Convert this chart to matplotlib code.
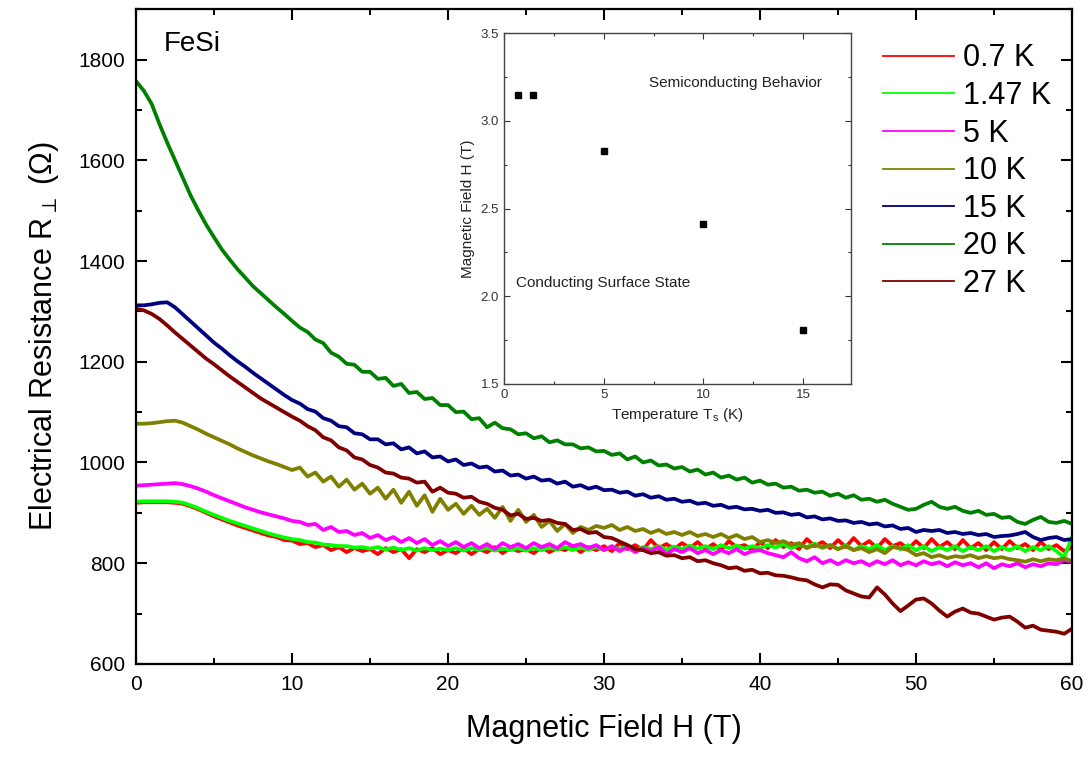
import matplotlib
matplotlib.use("Agg")
import matplotlib.pyplot as plt
from matplotlib.lines import Line2D
from matplotlib.ticker import MultipleLocator

plt.rcParams["font.family"] = ["Liberation Sans", "DejaVu Sans"]
plt.rcParams["mathtext.fontset"] = "dejavusans"

# ── field sweep (T) and resistance curves (Ohm) ──────────────────────────────
FIELD = [
    0.0, 0.5, 1.0, 1.5, 2.0, 2.5, 3.0, 3.5, 4.0, 4.5,
    5.0, 5.5, 6.0, 6.5, 7.0, 7.5, 8.0, 8.5, 9.0, 9.5,
    10.0, 10.5, 11.0, 11.5, 12.0, 12.5, 13.0, 13.5, 14.0, 14.5,
    15.0, 15.5, 16.0, 16.5, 17.0, 17.5, 18.0, 18.5, 19.0, 19.5,
    20.0, 20.5, 21.0, 21.5, 22.0, 22.5, 23.0, 23.5, 24.0, 24.5,
    25.0, 25.5, 26.0, 26.5, 27.0, 27.5, 28.0, 28.5, 29.0, 29.5,
    30.0, 30.5, 31.0, 31.5, 32.0, 32.5, 33.0, 33.5, 34.0, 34.5,
    35.0, 35.5, 36.0, 36.5, 37.0, 37.5, 38.0, 38.5, 39.0, 39.5,
    40.0, 40.5, 41.0, 41.5, 42.0, 42.5, 43.0, 43.5, 44.0, 44.5,
    45.0, 45.5, 46.0, 46.5, 47.0, 47.5, 48.0, 48.5, 49.0, 49.5,
    50.0, 50.5, 51.0, 51.5, 52.0, 52.5, 53.0, 53.5, 54.0, 54.5,
    55.0, 55.5, 56.0, 56.5, 57.0, 57.5, 58.0, 58.5, 59.0, 59.5,
    60.0,
]

R_07K = [
    920, 921, 921, 921, 921, 920, 918, 913, 907, 900,
    893, 887, 881, 875, 870, 865, 860, 855, 852, 846,
    845, 838, 840, 832, 836, 826, 832, 822, 830, 824,
    828, 818, 830, 822, 828, 810, 828, 822, 830, 818,
    826, 820, 830, 818, 828, 822, 832, 820, 830, 824,
    828, 820, 832, 822, 830, 826, 834, 822, 832, 826,
    834, 824, 840, 828, 836, 826, 846, 830, 838, 828,
    840, 830, 842, 828, 838, 826, 844, 832, 836, 826,
    842, 830, 846, 832, 840, 828, 848, 834, 842, 830,
    846, 832, 850, 834, 844, 830, 848, 834, 840, 828,
    844, 830, 848, 832, 842, 828, 846, 830, 840, 826,
    842, 828, 844, 830, 838, 826, 842, 828, 836, 824,
    832,
]

R_147K = [
    922, 923, 923, 923, 923, 922, 920, 915, 909, 902,
    896, 890, 884, 879, 874, 869, 864, 859, 855, 851,
    848, 846, 842, 841, 837, 836, 834, 834, 831, 832,
    829, 832, 827, 831, 826, 830, 825, 830, 826, 829,
    826, 830, 825, 830, 826, 831, 825, 829, 826, 830,
    825, 830, 826, 831, 827, 832, 826, 831, 827, 832,
    826, 833, 828, 834, 826, 832, 828, 834, 827, 833,
    828, 835, 829, 834, 828, 836, 830, 835, 829, 834,
    830, 836, 831, 838, 830, 837, 832, 839, 830, 836,
    828, 836, 826, 834, 828, 836, 826, 834, 828, 836,
    826, 834, 824, 832, 826, 834, 824, 832, 826, 834,
    824, 832, 826, 834, 824, 832, 826, 834, 824, 812,
    852,
]

R_5K = [
    954, 955, 956, 957, 958, 959, 957, 953, 948, 942,
    935, 929, 923, 917, 911, 906, 901, 897, 893, 889,
    884, 882, 876, 878, 866, 872, 862, 864, 856, 860,
    850, 856, 846, 852, 842, 850, 840, 848, 836, 844,
    834, 842, 832, 840, 830, 838, 828, 840, 832, 838,
    830, 840, 832, 838, 830, 842, 834, 838, 830, 836,
    826, 834, 824, 832, 822, 830, 824, 832, 818, 828,
    822, 830, 820, 826, 818, 826, 820, 828, 818, 824,
    826, 820, 816, 812, 822, 810, 804, 812, 800, 806,
    798, 806, 800, 804, 796, 804, 798, 806, 796, 802,
    796, 804, 798, 802, 794, 802, 796, 800, 792, 800,
    790, 798, 794, 800, 792, 798, 794, 800, 798, 806,
    803,
]

R_10K = [
    1077, 1077, 1078, 1080, 1082, 1083, 1079, 1072, 1065, 1057,
    1050, 1043, 1036, 1028, 1021, 1014, 1008, 1002, 997, 991,
    985, 990, 972, 980, 962, 972, 952, 966, 946, 958,
    938, 950, 928, 946, 920, 942, 914, 935, 902, 928,
    906, 918, 898, 914, 896, 908, 890, 912, 884, 906,
    882, 896, 872, 884, 864, 878, 860, 872, 866, 874,
    870, 876, 866, 872, 864, 868, 860, 866, 858, 862,
    856, 862, 854, 858, 852, 858, 850, 856, 848, 852,
    842, 846, 840, 844, 836, 840, 830, 836, 832, 836,
    828, 834, 826, 830, 822, 828, 820, 832, 830, 826,
    816, 820, 812, 816, 810, 814, 812, 816, 810, 814,
    810, 812, 808, 806, 803, 808, 804, 808, 806, 810,
    804,
]

R_15K = [
    1312, 1312, 1314, 1317, 1318, 1308, 1294, 1280, 1266, 1252,
    1238, 1226, 1213, 1201, 1190, 1178, 1167, 1156, 1145, 1134,
    1124, 1117, 1106, 1101, 1088, 1083, 1072, 1070, 1058, 1056,
    1046, 1046, 1036, 1038, 1026, 1030, 1018, 1022, 1010, 1012,
    1002, 1006, 995, 998, 990, 992, 982, 984, 974, 976,
    968, 972, 964, 966, 958, 962, 952, 955, 948, 952,
    945, 946, 940, 942, 934, 937, 930, 933, 926, 928,
    922, 924, 918, 920, 914, 916, 910, 912, 907, 908,
    904, 906, 900, 901, 896, 898, 891, 893, 887, 889,
    884, 885, 880, 882, 877, 879, 873, 875, 868, 870,
    862, 866, 864, 866, 860, 862, 858, 860, 856, 858,
    852, 854, 855, 858, 862, 852, 846, 850, 852, 846,
    848,
]

R_20K = [
    1757, 1738, 1712, 1672, 1635, 1600, 1565, 1530, 1500, 1472,
    1447, 1423, 1403, 1384, 1367, 1350, 1336, 1322, 1308, 1295,
    1281, 1268, 1259, 1244, 1237, 1218, 1210, 1196, 1194, 1180,
    1180, 1166, 1168, 1152, 1156, 1138, 1140, 1126, 1128, 1114,
    1114, 1100, 1101, 1086, 1088, 1070, 1079, 1068, 1066, 1056,
    1058, 1048, 1052, 1040, 1044, 1036, 1036, 1028, 1030, 1022,
    1023, 1015, 1018, 1006, 1012, 1000, 1004, 994, 996, 988,
    991, 982, 986, 976, 980, 970, 974, 966, 970, 960,
    964, 956, 958, 950, 952, 944, 946, 940, 942, 934,
    938, 930, 935, 926, 928, 922, 926, 918, 912, 906,
    908, 916, 922, 912, 908, 912, 904, 900, 904, 896,
    898, 890, 892, 882, 878, 886, 892, 882, 880, 884,
    878,
]

R_27K = [
    1305, 1302, 1295, 1285, 1272, 1258, 1245, 1232, 1219, 1206,
    1195, 1183, 1171, 1160, 1149, 1138, 1127, 1118, 1109, 1100,
    1091, 1083, 1072, 1064, 1050, 1044, 1030, 1024, 1010, 1006,
    995, 990, 980, 978, 970, 968, 960, 962, 942, 950,
    940, 938, 930, 932, 922, 918, 910, 906, 895, 898,
    888, 890, 884, 886, 880, 878, 866, 868, 860, 862,
    852, 850, 843, 836, 828, 826, 820, 822, 815, 816,
    810, 812, 804, 806, 800, 796, 790, 792, 785, 787,
    780, 781, 776, 775, 772, 768, 766, 758, 752, 758,
    757, 746, 740, 734, 732, 752, 738, 720, 705, 716,
    728, 730, 720, 706, 694, 704, 710, 702, 700, 694,
    688, 692, 694, 684, 672, 676, 668, 666, 664, 660,
    670,
]

LABELS = ["0.7 K", "1.47 K", "5 K", "10 K", "15 K", "20 K", "27 K"]
COLORS = ["#ff0000", "#00ff00", "#ff00ff", "#808000", "#000080", "#008000", "#800000"]
CURVES = [R_07K, R_147K, R_5K, R_10K, R_15K, R_20K, R_27K]

# ── inset: crossover field vs temperature ─────────────────────────────────────
TS = [0.7, 1.47, 5, 10, 15]
H_CROSS = [3.145, 3.145, 2.825, 2.41, 1.81]

fig = plt.figure(figsize=(10.9, 7.57), dpi=100)
ax = fig.add_axes([0.1248, 0.1229, 0.8587, 0.865])

for r, c in zip(CURVES, COLORS):
    ax.plot(FIELD, r, color=c, lw=2.7, solid_joinstyle="round")

ax.set_xlim(0, 60)
ax.set_ylim(600, 1900)
ax.xaxis.set_major_locator(MultipleLocator(10))
ax.xaxis.set_minor_locator(MultipleLocator(5))
ax.yaxis.set_minor_locator(MultipleLocator(100))
ax.set_yticks([600, 800, 1000, 1200, 1400, 1600, 1800])
ax.tick_params(which="both", direction="in", top=True, right=True, width=1.5)
ax.tick_params(which="major", length=8, labelsize=15, pad=8)
ax.tick_params(which="minor", length=4)
for s in ax.spines.values():
    s.set_linewidth(1.6)

ax.set_xlabel("Magnetic Field H (T)", fontsize=22, labelpad=14)
ax.set_ylabel("Electrical Resistance R$_{\\perp}$ (Ω)", fontsize=22, labelpad=12)
ax.text(1.75, 1830, "FeSi", fontsize=20, va="center", ha="left")

handles = [Line2D([], [], color=c, lw=1.3) for c in COLORS]
ax.legend(handles, LABELS, loc="upper left", bbox_to_anchor=(868 / 1090, 1 - 28 / 757),
          bbox_transform=fig.transFigure, frameon=False, fontsize=22,
          handlelength=2.3, handletextpad=0.3, labelspacing=0.25, borderpad=0)

# inset
ins = fig.add_axes([504 / 1090, 1 - 384 / 757, 347 / 1090, 351 / 757])
ins.plot(TS, H_CROSS, ls="none", marker="s", ms=5, color="black")
ins.set_xlim(0, 17.4)
ins.set_ylim(1.5, 3.5)
ins.xaxis.set_major_locator(MultipleLocator(5))
ins.xaxis.set_minor_locator(MultipleLocator(2.5))
ins.yaxis.set_major_locator(MultipleLocator(0.5))
ins.yaxis.set_minor_locator(MultipleLocator(0.25))
ins.tick_params(which="both", direction="in", top=True, right=True, width=0.8,
                labelsize=9.5, colors="#333333", labelcolor="#333333")
ins.tick_params(which="major", length=4)
ins.tick_params(which="minor", length=2)
for s in ins.spines.values():
    s.set_linewidth(1.0)
    s.set_color("#444444")
ins.set_xlabel("Temperature T$_\\mathregular{s}$ (K)", fontsize=11, color="#222222")
ins.set_ylabel("Magnetic Field H (T)", fontsize=11, color="#222222")
ins.text(7.25, 3.215, "Semiconducting Behavior", fontsize=11, va="center", color="#222222")
ins.text(0.6, 2.075, "Conducting Surface State", fontsize=11, va="center", color="#222222")

fig.savefig("out.png", dpi=100)
